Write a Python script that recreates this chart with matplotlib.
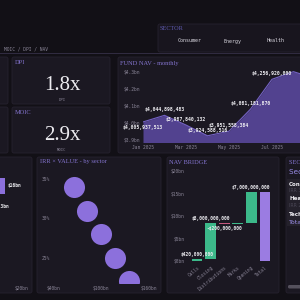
import numpy as np
import matplotlib.pyplot as plt
from matplotlib.patches import FancyBboxPatch, Rectangle
from matplotlib.transforms import Affine2D

# ---- data ----
nav_months = ['Jan 2025', 'Feb 2025', 'Mar 2025', 'Apr 2025', 'May 2025',
              'Jun 2025', 'Jul 2025', 'Aug 2025', 'Sep 2025']
nav_values = [4005937513, 4044898483, 3987840132, 3924588516, 3951558384,
              4081181870, 4256920000, 4302000000, 4262000000]
nav_yticks = [3.9, 4.0, 4.1, 4.2, 4.3]

kpi_names = ['DPI', 'MOIC']
kpi_values = [1.8, 2.9]

sector_buttons = ['Consumer', 'Energy', 'Health']

scatter_sectors = ['Consumer', 'Energy', 'Health', 'Industrials', 'Tech']
scatter_value_bn = [66, 82, 100, 118, 135]
scatter_irr = [34, 31, 28, 25, 22]
scatter_xticks = [40, 100, 160]
scatter_yticks = [25, 30, 35]

bridge_steps = ['Calls', 'Closing', 'Distributions', 'Marks', 'Opening']
bridge_values = [420e6, 8000e6, -200e6, 150e6, 7000e6]
bridge_yticks = [0, 5, 10, 15, 20]

commit_names = ['Consumer', 'Energy']
commit_values = [16, 13]

table_rows = ['Consumer', 'Health', 'Tech']
table_sub = ['IRR 34%', 'IRR 28%']

# ---- style ----
BG = '#121016'
PANEL = '#1b1822'
EDGE = '#26222f'
TITLE = '#8474cf'
TICK = '#8a8597'
WHITE = '#ecebf0'
AREA = '#52428f'
LINE = '#7462c4'
DOT = '#8c70dc'
GREEN = '#3cb98a'
RED = '#c4577e'
TOTAL = '#9b7ce2'
SERIF = 'Liberation Serif'
MONO = 'DejaVu Sans Mono'

W, H = 300, 300
fig = plt.figure(figsize=(3, 3), dpi=100, facecolor=BG)
pix = Affine2D().scale(1 / W, -1 / H).translate(0, 1) + fig.transFigure


def panel(x0, y0, x1, y1, color=PANEL):
    fig.add_artist(FancyBboxPatch((x0, y0), x1 - x0, y1 - y0,
                                  boxstyle='round,pad=0,rounding_size=2',
                                  transform=pix, fc=color, ec=EDGE, lw=0.6, zorder=-2))


def text(x, y, s, **kw):
    kw.setdefault('va', 'center')
    fig.text(x, y, s, transform=pix, **kw)


def add_ax(x0, y0, x1, y1):
    ax = fig.add_axes([x0 / W, 1 - y1 / H, (x1 - x0) / W, (y1 - y0) / H])
    ax.set_facecolor('none')
    for s in ax.spines.values():
        s.set_visible(False)
    ax.tick_params(length=0, colors=TICK, labelsize=3.3, pad=2)
    return ax


# header
text(48, 49, 'MOIC / DPI / NAV', ha='right', color=TICK, fontsize=3.3, family=MONO)
fig.add_artist(Rectangle((0, 52.5), 300, 1.3, transform=pix, fc='#302b40', lw=0, zorder=-2))
panel(158, 24, 305, 52, color='#18151e')
text(160, 29, 'SECTOR', color='#5e5ab0', fontsize=4.5, family=SERIF)
for i, name in enumerate(sector_buttons):
    text(190 + 43 * i, 41, name, ha='center', color='#d8d6df', fontsize=3.6, family=MONO)

# panels
for box in [(-10, 57, 8, 104), (-10, 107, 8, 153), (12, 57, 110, 104),
            (12, 107, 110, 153), (118, 57, 310, 153), (-10, 157, 32, 293),
            (37, 157, 161, 293), (167, 157, 279, 293), (286, 157, 310, 293)]:
    panel(*box)

# KPI tiles
for i, (name, val) in enumerate(zip(kpi_names, kpi_values)):
    y = 57 + 50 * i
    text(15, y + 6, name, color=TITLE, fontsize=4.6, family=SERIF)
    text(62, y + 28, f'{val:.1f}x', ha='center', color=WHITE, fontsize=15, family=SERIF)
    text(62, y + 43, name, ha='center', color=TICK, fontsize=2.8, family=MONO)

# fund NAV
text(120, 63, 'FUND NAV - monthly', color=TITLE, fontsize=4.6, family=SERIF)
ax = add_ax(143, 68, 330, 142)
x = np.arange(len(nav_values))
nav_bn = np.array(nav_values) / 1e9
ax.fill_between(x, nav_bn, 3.0, color=AREA, lw=0)
ax.plot(x, nav_bn, color=LINE, lw=0.8)
ax.set_xlim(0, 8.7)
ax.set_ylim(3.888, 4.3235)
ax.set_xticks(x[:7:2], nav_months[:7:2], family=MONO)
ax.set_yticks(nav_yticks, [f'${t:.1f}bn' for t in nav_yticks], family=MONO)
for i in range(7):
    off = -4 if i == 0 else 4
    ax.annotate(f'${nav_values[i]:,.0f}', (x[i], nav_bn[i]), xytext=(0, off),
                textcoords='offset points', ha='center', va='center',
                color=WHITE, fontsize=3.5, family=MONO, fontweight='bold')

# commitments (cropped bar panel)
ax = add_ax(-59, 170, 30, 283)
yy = np.arange(len(commit_values))
ax.barh(yy, commit_values, height=0.76, color=DOT)
for yi, v in zip(yy, commit_values):
    ax.annotate(f'${v}bn', (v, yi), xytext=(2, 0), textcoords='offset points',
                va='center', color=WHITE, fontsize=3.3, family=MONO, fontweight='bold')
ax.set_xlim(0, 22.25)
ax.set_ylim(4.62, -0.76)
ax.set_yticks([])
ax.set_xticks([0, 10, 20], ['$0bn', '$10bn', '$20bn'], family=MONO)

# IRR x value scatter
text(40, 162, 'IRR × VALUE - by sector', color=TITLE, fontsize=4.6, family=SERIF)
ax = add_ax(53, 168, 155, 283)
ax.scatter(scatter_value_bn, scatter_irr, s=230, color=DOT, lw=0)
ax.set_xlim(40, 167.5)
ax.set_ylim(21.8, 36.4)
ax.set_xticks(scatter_xticks, [f'${t}bn' for t in scatter_xticks], family=MONO)
ax.set_yticks(scatter_yticks, [f'{t}%' for t in scatter_yticks], family=MONO)

# NAV bridge
text(169, 162, 'NAV BRIDGE', color=TITLE, fontsize=4.6, family=SERIF)
ax = add_ax(187, 168, 275, 262)
vals = np.array(bridge_values) / 1e9
starts = np.concatenate([[0], np.cumsum(vals)[:-1]])
colors = [GREEN if v >= 0 else RED for v in vals]
bx = np.arange(len(vals))
ax.bar(bx, vals, bottom=starts, width=0.78, color=colors)
total = vals.sum()
ax.bar(len(vals), total, width=0.78, color=TOTAL)
for i, v in enumerate(bridge_values):
    if abs(v) < 2e8:
        continue
    top = max(starts[i], starts[i] + vals[i])
    bot = min(starts[i], starts[i] + vals[i])
    lab = f'${v:,.0f}' if v > 0 else f'-${-v:,.0f}'
    ax.annotate(lab, (i, top if v > 0 else bot), xytext=(0, 3.5 if v > 0 else -3.5),
                textcoords='offset points', ha='center', va='center',
                color=WHITE, fontsize=3.3, family=MONO, fontweight='bold')
ax.set_xlim(-0.75, 5.75)
ax.set_ylim(-0.2, 20.7)
ax.set_yticks(bridge_yticks, [f'${t}bn' for t in bridge_yticks], family=MONO)
ax.set_xticks(np.arange(len(vals) + 1))
ax.set_xticklabels(bridge_steps + ['Total'], rotation=40, ha='right',
                   rotation_mode='anchor', family=MONO)

# sector table (cropped)
text(289, 162, 'SECTOR DETAIL', color=TITLE, fontsize=4.6, family=SERIF)
text(289, 172, 'Sector table', color='#9a8ce8', fontsize=5.2, family='DejaVu Sans')
fig.add_artist(Rectangle((287, 179), 30, 47, transform=pix, fc='#24212b', lw=0, zorder=-1))
for i, name in enumerate(table_rows):
    text(289, 184 + 15 * i, name, color=WHITE, fontsize=4, family='DejaVu Sans',
         fontweight='bold')
for i, sub in enumerate(table_sub):
    text(289, 190.5 + 15 * i, sub, color='#4a4655', fontsize=3.3, family='DejaVu Sans')
text(289, 222, 'Total', color='#9a8ce8', fontsize=4.5, family='DejaVu Sans')
fig.add_artist(FancyBboxPatch((288, 285), 20, 3.5, boxstyle='round,pad=0,rounding_size=1.5',
                              transform=pix, fc='#55515d', lw=0))

fig.savefig('out.png', dpi=100, facecolor=BG)
